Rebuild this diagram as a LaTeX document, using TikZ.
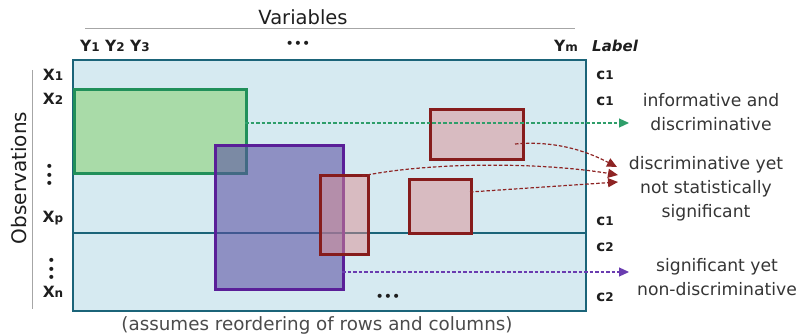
\documentclass[tikz,border=0pt]{standalone}
\usepackage{fontspec}
\setmainfont{DejaVu Sans}
\usetikzlibrary{arrows.meta}
\definecolor{cellblue}{HTML}{D6EAF1}
\definecolor{tealline}{HTML}{1B6479}
\definecolor{grfill}{HTML}{A9DBA8}
\definecolor{grline}{HTML}{21905A}
\definecolor{puline}{HTML}{5A1F98}
\definecolor{pufill}{HTML}{5B50A2}
\definecolor{rdline}{HTML}{861C1C}
\definecolor{rdfill}{HTML}{DB8E92}
\definecolor{grarrow}{HTML}{2E9E6A}
\definecolor{puarrow}{HTML}{6A3CB0}
\definecolor{rdarrow}{HTML}{8E2424}
\definecolor{txt}{HTML}{1E1E1E}
\begin{document}
\begin{tikzpicture}[x=1pt,y=-1pt,
  cell/.style={draw=tealline, fill=cellblue, line width=2.8pt, anchor=north west, inner sep=0pt, outer sep=0pt},
  grbox/.style={draw=grline, fill=grfill, line width=2.6pt, anchor=north west, inner sep=0pt},
  pubox/.style={draw=puline, fill=pufill, fill opacity=0.58, line width=2.6pt, anchor=north west, inner sep=0pt},
  rdbox/.style={draw=rdline, fill=rdfill, fill opacity=0.5, line width=2.6pt, anchor=north west, inner sep=0pt},
  lab/.style={font=\fontsize{15.5}{15.5}\selectfont\bfseries, text=txt, inner sep=0pt},
  cls/.style={font=\fontsize{15}{15}\selectfont\bfseries, text=txt, inner sep=0pt},
  desc/.style={font=\fontsize{17.2}{24}\selectfont, text=txt!90, align=center, inner sep=0pt},
  dots/.style={font=\fontsize{14}{14}\selectfont, text=txt, inner sep=0pt},
  dlink/.style={dash pattern=on 3.5pt off 2pt, line width=1.2pt},
  tipg/.style={-{Triangle[length=10pt,width=9pt]}},
]
\useasboundingbox (0,0) rectangle (801,336);
\newcommand{\sm}[1]{{\fontsize{12}{12}\selectfont #1}}

% header
\node[font=\fontsize{19.5}{19.5}\selectfont, text=txt, inner sep=0pt] (vars) at (303,17) {Variables};
\coordinate (hl) at (85,29);
\coordinate (hr) at (575,29);
\draw[gray!70, line width=1pt] (hl) -- (hr);
\node[lab, anchor=west] (y123) at (80,46) {Y\sm{1} Y\sm{2} Y\sm{3}};
\node[dots] (hdots) at (298,45) {•••};
\node[lab, anchor=east] (ym) at (578,46) {Y\sm{m}};
\node[lab, anchor=west, font=\fontsize{15}{15}\selectfont\bfseries\itshape] (label) at (592,46) {Label};

% observations
\node[font=\fontsize{20}{20}\selectfont, text=txt, rotate=90, inner sep=0pt] (obs) at (19,178) {Observations};
\coordinate (vt) at (32,70);
\coordinate (vb) at (32,309);
\draw[gray!70, line width=1pt] (vt) -- (vb);
\node[lab] (x1) at (53,75) {X\sm{1}};
\node[lab] (x2) at (53,99) {X\sm{2}};
\node[lab] (xp) at (53,218) {X\sm{p}};
\node[lab] (xn) at (53,292) {X\sm{n}};
\node[dots, rotate=90] (vd1) at (51,175) {•••};
\node[dots, rotate=90] (vd2) at (53,269) {•••};

% matrix
\node[cell, minimum width=513pt, minimum height=173pt] (upper) at (73,60) {};
\node[cell, minimum width=513pt, minimum height=78pt] (lower) at (73,233) {};
\node[dots] (bdots) at (388,298) {•••};

\node[grbox, minimum width=172pt, minimum height=84pt] (green) at (73,88) {};
\node[pubox, minimum width=128pt, minimum height=144pt] (purple) at (214,144) {};
\node[rdbox, minimum width=48pt, minimum height=79pt] (rtall) at (319,174) {};
\node[rdbox, minimum width=93pt, minimum height=50pt] (rtop) at (429,108) {};
\node[rdbox, minimum width=62pt, minimum height=54pt] (rmid) at (408,178) {};

% class labels
\node[cls] (c1a) at (605,75) {c\sm{1}};
\node[cls] (c1b) at (605,101) {c\sm{1}};
\node[cls] (c1c) at (605,221) {c\sm{1}};
\node[cls] (c2a) at (605,247) {c\sm{2}};
\node[cls] (c2b) at (605,297) {c\sm{2}};

% descriptions
\node[desc] (informative) at (711,112) {informative and\\discriminative};
\node[desc] (discr) at (706,189) {discriminative yet\\not statistically\\significant};
\node[desc] (signif) at (717,277) {significant yet\\non-discriminative};

% connectors
\coordinate (gs) at (245,123);
\coordinate (gt) at (629,123);
\draw[dlink, grarrow, tipg] (gs) -- (gt);
\coordinate (ps) at (342,272);
\coordinate (pt) at (629,272);
\draw[dlink, puarrow, tipg] (ps) -- (pt);

\coordinate (r1s) at (515,144);
\coordinate (r1t) at (617,167);
\coordinate (r2s) at (362,176);
\coordinate (r2t) at (618,175);
\coordinate (r3s) at (470,192);
\coordinate (r3t) at (618,182);
\draw[dlink, rdarrow, tipg] (r1s) .. controls (560,140) and (592,154) .. (r1t);
\draw[dlink, rdarrow, tipg] (r2s) .. controls (430,162) and (540,162) .. (r2t);
\draw[dlink, rdarrow, tipg] (r3s) -- (r3t);

% footer
\node[font=\fontsize{18.3}{18.3}\selectfont, text=txt!80, inner sep=0pt] (foot) at (317,325) {(assumes reordering of rows and columns)};
\end{tikzpicture}
\end{document}
